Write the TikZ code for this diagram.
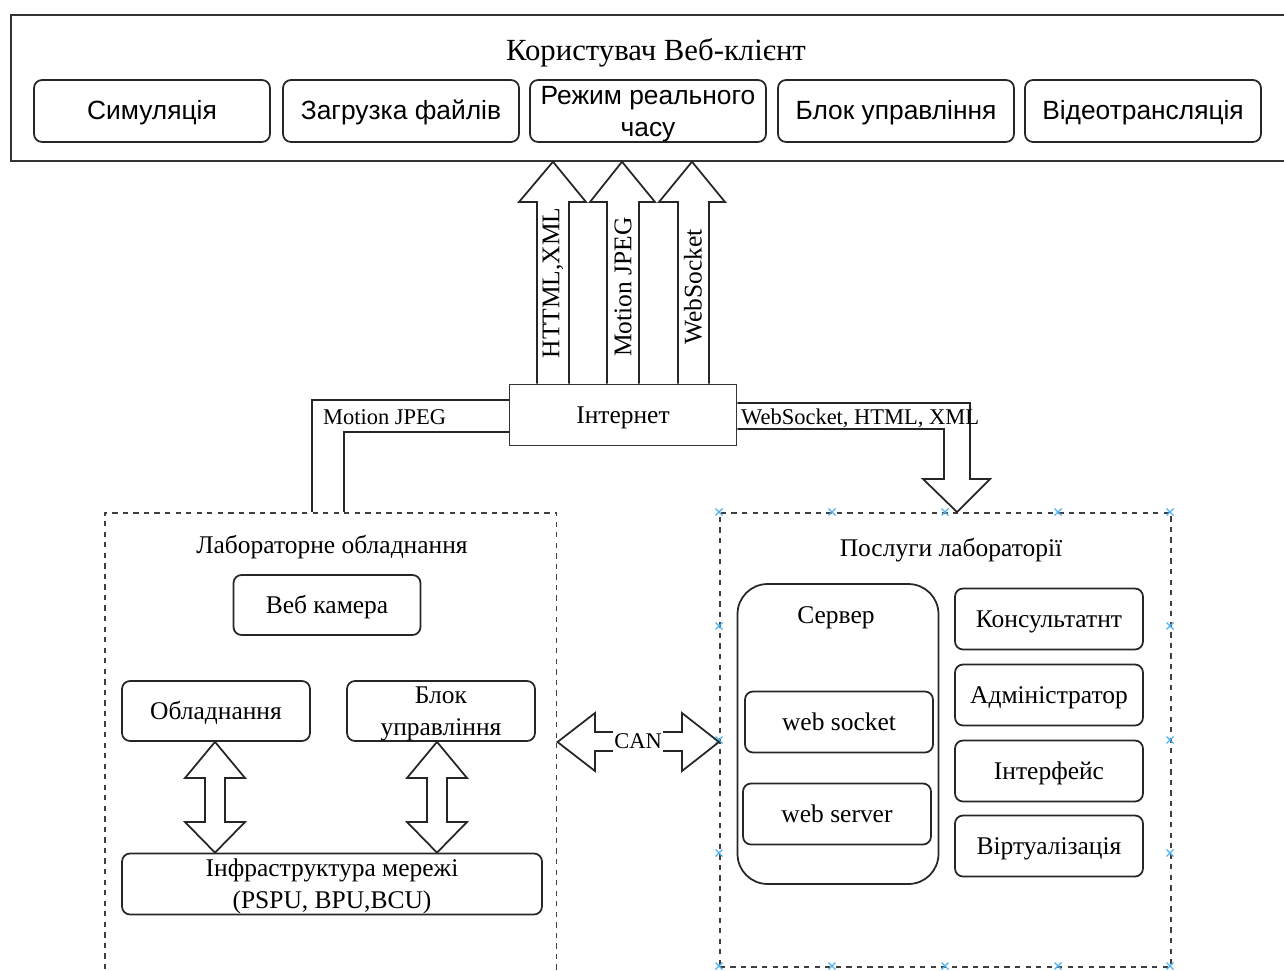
\documentclass[tikz,border=0pt]{standalone}
\usepackage{fontspec}
\setmainfont{Liberation Serif}
\setsansfont{Liberation Sans}
\usetikzlibrary{calc}

\definecolor{selblue}{HTML}{4FB3F0}
\newcommand{\boxfont}{\fontsize{14.5}{18.2}\selectfont}
\newcommand{\tabfont}{\sffamily\fontsize{15}{18.2}\selectfont}
\newcommand{\titlefont}{\fontsize{17.5}{21}\selectfont}
\newcommand{\lblfont}{\fontsize{12.8}{15}\selectfont}

\tikzset{
  oneline/.style={text height=11pt, text depth=1.4pt},
  twoline/.style={text depth=0pt},
  panel/.style={draw=black!80, line width=1pt},
  box/.style={draw=black!85, line width=1pt, rounded corners=0.16cm, align=center, inner sep=1pt,
    minimum width=3.76cm, minimum height=1.22cm, font=\boxfont},
  tab/.style={box, minimum width=4.72cm, minimum height=1.24cm, font=\tabfont},
  group/.style={draw=black!75, line width=0.9pt, dash pattern=on 3pt off 3pt},
  band/.style={draw=black!85, line width=1pt, line join=miter},
  vlabel/.style={rotate=90, font=\boxfont, inner sep=0pt},
  lbl/.style={font=\lblfont, inner sep=1pt, text height=10pt, text depth=1pt},
  selmark/.style={draw=selblue, line width=0.7pt}
}

\begin{document}
\begin{tikzpicture}[x=0.02cm, y=-0.02cm]
    \useasboundingbox (0,0) rectangle (1284,970);

    % Web client panel
    \node[panel, anchor=north west, minimum width=25.6cm, minimum height=2.92cm] (client) at (10,14) {};
    \node[font=\titlefont, text height=13pt, text depth=1.6pt] (clienttitle) at (656,50) {Користувач Веб-клієнт};
    \node[tab, oneline] (sim) at (152,111) {Симуляція};
    \node[tab, oneline] (upload) at (401,111) {Загрузка файлів};
    \node[tab, twoline] (realtime) at (648,111) {Режим реального\\часу};
    \node[tab, oneline] (ctrlui) at (896,111) {Блок управління};
    \node[tab, oneline] (video) at (1143,111) {Відеотрансляція};

    % Internet
    \node[panel, minimum width=4.54cm, minimum height=1.22cm, font=\boxfont, oneline] (inet) at (623,415) {Інтернет};

    % Block arrows up to the client
    \draw[band] (inet.north -| 537,0) -- (537,202) -- (519,202) -- (client.south -| 553,0) -- (586,202) -- (569,202) -- (inet.north -| 569,0);
    \draw[band] (inet.north -| 607,0) -- (607,202) -- (590,202) -- (client.south -| 622,0) -- (655,202) -- (639,202) -- (inet.north -| 639,0);
    \draw[band] (inet.north -| 678,0) -- (678,202) -- (659,202) -- (client.south -| 692,0) -- (725,202) -- (709,202) -- (inet.north -| 709,0);
    \node[vlabel] (lhtml) at (553,283) {HTTML,XML};
    \node[vlabel] (lmjpeg) at (623,287) {Motion JPEG};
    \node[vlabel] (lwsock) at (693,287) {WebSocket};

    % Lab equipment group
    \node[group, anchor=north west, minimum width=9.04cm, minimum height=9.8cm] (lab) at (104,512) {};
    \node[font=\boxfont, oneline] (labtitle) at (332,545) {Лабораторне обладнання};
    \node[box, oneline, minimum width=3.74cm, minimum height=1.2cm] (webcam) at (327,605) {Веб камера};
    \node[box, oneline, minimum height=1.2cm] (equip) at (216,711) {Обладнання};
    \node[box, twoline, minimum height=1.2cm] (ctrl) at (441,711) {Блок\\управління};
    \node[box, twoline, minimum width=8.4cm] (infra) at (332,884) {Інфраструктура мережі\\(PSPU, BPU,BCU)};

    % Double arrows to the network
    \draw[band] (equip.south -| 215,0) -- (245,778) -- (225,778) -- (225,822) -- (245,822) -- (infra.north -| 215,0) -- (185,822) -- (205,822) -- (205,778) -- (185,778) -- cycle;
    \draw[band] (ctrl.south -| 437,0) -- (467,778) -- (447,778) -- (447,822) -- (467,822) -- (infra.north -| 437,0) -- (407,822) -- (427,822) -- (427,778) -- (407,778) -- cycle;

    % Motion JPEG band
    \draw[band] (inet.west |- 0,400) -- (312,400) -- (lab.north -| 312,0);
    \draw[band] (inet.west |- 0,432) -- (344,432) -- (lab.north -| 344,0);
    \node[lbl, anchor=west] (lvideo) at (321,417) {Motion JPEG};

    % Lab services group
    \node[group, anchor=north west, minimum width=9.02cm, minimum height=9.08cm] (svc) at (719,512) {};
    \node[font=\boxfont, oneline] (svctitle) at (951,548) {Послуги лабораторії};
    \node[box, rounded corners=0.6cm, minimum width=4.02cm, minimum height=6cm] (server) at (838,734) {};
    \node[font=\boxfont, oneline] (srvtitle) at (836,615) {Сервер};
    \node[box, oneline] (wsock) at (839,722) {web socket};
    \node[box, oneline] (wserv) at (837,814) {web server};
    \node[box, oneline] (consult) at (1049,619) {Консультатнт};
    \node[box, oneline] (admin) at (1049,695) {Адміністратор};
    \node[box, oneline] (iface) at (1049,771) {Інтерфейс};
    \node[box, oneline] (virt) at (1049,846) {Віртуалізація};

    % selection marks
    \foreach \x in {719,832,945,1058,1170} {
        \draw[selmark] (\x,512) +(-3.5,-3.5) -- +(3.5,3.5) +(-3.5,3.5) -- +(3.5,-3.5);
        \draw[selmark] (\x,966) +(-3.5,-3.5) -- +(3.5,3.5) +(-3.5,3.5) -- +(3.5,-3.5);
    }
    \foreach \y in {626,740,853} {
        \draw[selmark] (719,\y) +(-3.5,-3.5) -- +(3.5,3.5) +(-3.5,3.5) -- +(3.5,-3.5);
        \draw[selmark] (1170,\y) +(-3.5,-3.5) -- +(3.5,3.5) +(-3.5,3.5) -- +(3.5,-3.5);
    }

    % Band down to the services
    \draw[band] (inet.east |- 0,403) -- (970,403) -- (970,479) -- (990,479) -- (svc.north -| 957,0) -- (923,479) -- (944,479) -- (944,429) -- (inet.east |- 0,429);
    \node[lbl, anchor=west] (lweb) at (739,417) {WebSocket, HTML, XML};

    % CAN link
    \draw[band] (lab.east |- 0,742) -- (595,713) -- (595,732) -- (682,732) -- (682,713) -- (svc.west |- 0,742) -- (682,771) -- (682,751) -- (595,751) -- (595,771) -- cycle;
    \node[lbl, fill=white, inner sep=0.5pt] (lcan) at (638,741) {CAN};

\end{tikzpicture}
\end{document}
